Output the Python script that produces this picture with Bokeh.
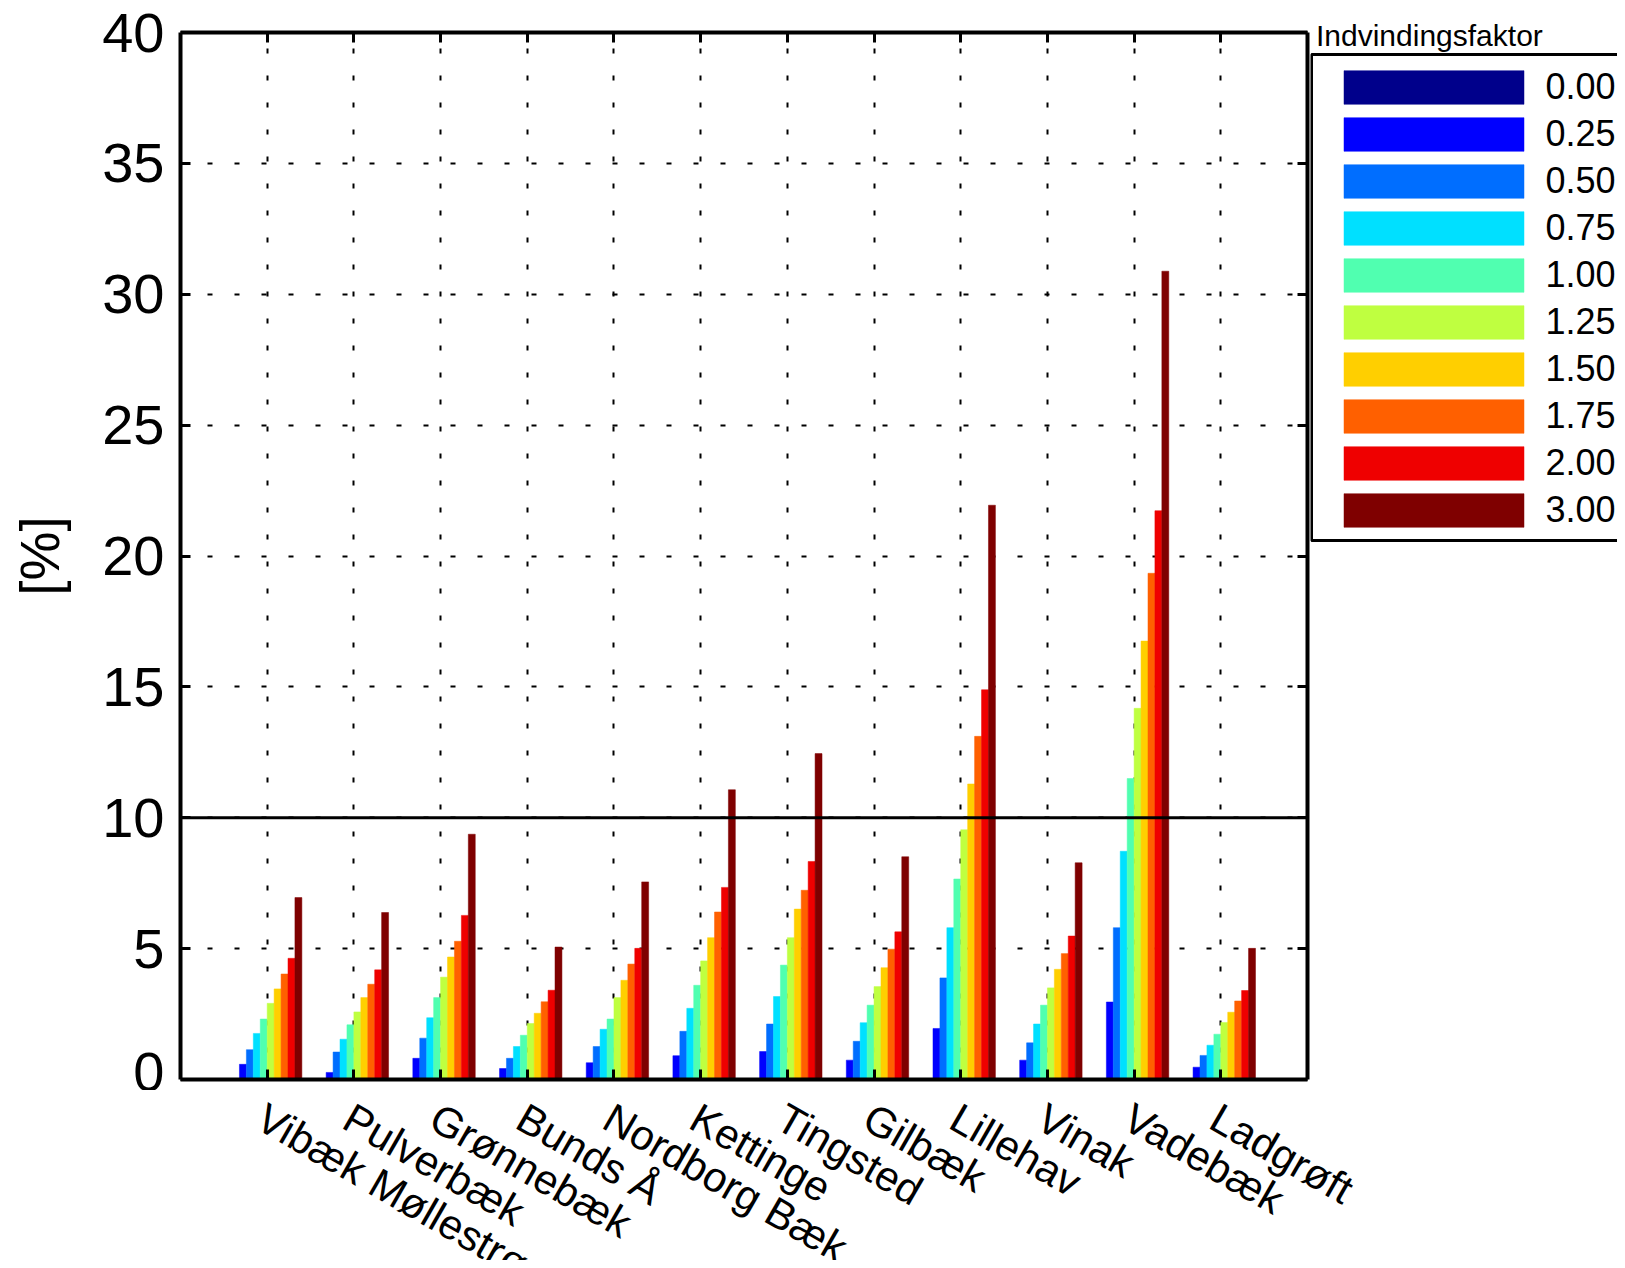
from bokeh.plotting import figure
from bokeh.layouts import column, row
from bokeh.models import (ColumnDataSource, Range1d, LinearAxis, FixedTicker, Grid, Span,
                          Legend, LegendItem, Label, BoxAnnotation)
from bokeh.core.properties import value
from bokeh.transform import dodge
from bokeh.embed import file_html
from bokeh.resources import INLINE

# ---------------- data ----------------
categories = ["Vibæk Møllestrøm", "Pulverbæk", "Grønnebæk", "Bunds Å", "Nordborg Bæk",
              "Kettinge", "Tingsted", "Gilbæk", "Lillehav", "Vinak", "Vadebæk", "Ladgrøft"]
positions = [1, 2, 3, 4, 5, 6, 7, 8, 9, 10, 11, 12]

factor_labels = ["0.00", "0.25", "0.50", "0.75", "1.00", "1.25", "1.50", "1.75", "2.00", "3.00"]

f000 = [0, 0, 0, 0, 0, 0, 0, 0, 0, 0, 0, 0]
f025 = [0.58, 0.27, 0.81, 0.42, 0.64, 0.91, 1.07, 0.74, 1.95, 0.74, 2.96, 0.47]
f050 = [1.14, 1.05, 1.58, 0.81, 1.26, 1.84, 2.12, 1.46, 3.88, 1.40, 5.80, 0.92]
f075 = [1.76, 1.54, 2.36, 1.26, 1.92, 2.72, 3.17, 2.17, 5.80, 2.12, 8.72, 1.31]
f100 = [2.31, 2.09, 3.13, 1.69, 2.31, 3.60, 4.37, 2.84, 7.66, 2.84, 11.50, 1.73]
f125 = [2.91, 2.58, 3.91, 2.14, 3.13, 4.53, 5.42, 3.55, 9.54, 3.50, 14.18, 2.18]
f150 = [3.46, 3.13, 4.68, 2.53, 3.79, 5.42, 6.51, 4.27, 11.29, 4.21, 16.75, 2.57]
f175 = [4.03, 3.64, 5.28, 2.97, 4.41, 6.40, 7.23, 4.98, 13.11, 4.81, 19.34, 3.00]
f200 = [4.63, 4.19, 6.27, 3.41, 5.01, 7.34, 8.33, 5.64, 14.89, 5.48, 21.73, 3.40]
f300 = [6.95, 6.38, 9.37, 5.06, 7.55, 11.07, 12.45, 8.51, 21.94, 8.28, 30.88, 5.01]

series = [f000, f025, f050, f075, f100, f125, f150, f175, f200, f300]

colors = ["#00008B", "#0000FF", "#006EFF", "#00E0FF", "#50FFB0",
          "#BFFF40", "#FFCF00", "#FF6000", "#EF0000", "#7F0000"]

y_ticks = [0, 5, 10, 15, 20, 25, 30, 35, 40]
threshold = 10
legend_title = "Indvindingsfaktor"
y_label = "[%]"

FONT = "Liberation Sans"
BAR_W = 0.08

# ---------------- layout constants (pixels) ----------------
PAGE_W, PAGE_H = 1617, 1260
FR_L, FR_R, FR_T, FR_B = 180, 1307, 32, 1079      # plot frame edges on the page
MAIN_W, MAIN_H = 1310, 1090
LEG_W = PAGE_W - MAIN_W
LAB_H = PAGE_H - MAIN_H
X0, X1 = 0, 13

sources = [ColumnDataSource(dict(x=positions, top=vals)) for vals in series]

# ---------------- main figure ----------------
p = figure(width=MAIN_W, height=MAIN_H, x_range=Range1d(X0, X1), y_range=Range1d(0, 40),
           x_axis_type=None, y_axis_type=None, output_backend="svg", toolbar_location=None,
           min_border_left=FR_L, min_border_right=MAIN_W - FR_R,
           min_border_top=FR_T, min_border_bottom=MAIN_H - FR_B)
p.outline_line_color = None
p.frame_align = False

xt = FixedTicker(ticks=positions)
yt = FixedTicker(ticks=y_ticks)


def style_axis(ax, show_labels):
    ax.axis_line_width = 4
    ax.axis_line_color = "black"
    ax.major_tick_in = 10
    ax.major_tick_out = 0
    ax.minor_tick_in = 0
    ax.minor_tick_out = 0
    ax.major_tick_line_width = 3
    ax.minor_tick_line_color = None
    if show_labels:
        ax.major_label_text_font = FONT
        ax.major_label_text_font_size = "56px"
        ax.major_label_text_color = "black"
        ax.major_label_standoff = 16
    else:
        ax.major_label_text_font_size = "1px"
        ax.major_label_text_color = None
        ax.major_label_standoff = 0


xb = LinearAxis(ticker=xt)
style_axis(xb, False)
xa = LinearAxis(ticker=xt)
style_axis(xa, False)
yl = LinearAxis(ticker=yt, axis_label=y_label)
style_axis(yl, True)
yl.axis_label_text_font = FONT
yl.axis_label_text_font_size = "55px"
yl.axis_label_text_font_style = "normal"
yl.axis_label_text_color = "black"
yl.axis_label_standoff = 28
yr = LinearAxis(ticker=yt)
style_axis(yr, False)

p.add_layout(xb, "below")
p.add_layout(xa, "above")
p.add_layout(yl, "left")
p.add_layout(yr, "right")

for dim, tk in ((0, xt), (1, yt)):
    g = Grid(dimension=dim, ticker=tk, grid_line_color="black", grid_line_width=2,
             grid_line_dash="5 22")
    p.add_layout(g, "center")

for k, (src, col) in enumerate(zip(sources, colors)):
    p.vbar(x=dodge("x", (k - 4.5) * BAR_W, range=p.x_range), top="top", bottom=0,
           width=BAR_W, source=src, fill_color=col, line_color=col, line_width=0.5)

p.add_layout(Span(location=threshold, dimension="width", line_color="black", line_width=3))

# ---------------- legend figure (to the right of the plot) ----------------
leg = figure(width=LEG_W, height=MAIN_H, x_range=Range1d(0, LEG_W), y_range=Range1d(MAIN_H, 0),
             x_axis_type=None, y_axis_type=None, output_backend="svg", toolbar_location=None,
             min_border=0)
leg.outline_line_color = None
leg.frame_align = False
# the swatch renderers reuse the series data on ranges that keep them out of view
leg.extra_x_ranges = {"hidden": Range1d(5000, 5100)}
leg.extra_y_ranges = {"hidden": Range1d(5000, 5100)}
swatches = []
for src, col in zip(sources, colors):
    swatches.append(leg.vbar(x="x", top="top", bottom=0, width=BAR_W, source=src,
                             x_range_name="hidden", y_range_name="hidden",
                             fill_color=col, line_color=col, line_width=0.5))
items = [LegendItem(label=lab, renderers=[r]) for lab, r in zip(factor_labels, swatches)]
legend = Legend(items=items, location=(10.5, 559), padding=0, spacing=5,
                glyph_width=225, glyph_height=42, label_height=34, label_standoff=-5,
                label_text_font=FONT, label_text_font_size="36px", label_text_color="black",
                border_line_color=None, background_fill_alpha=0, margin=0)
leg.add_layout(legend, "center")
leg.add_layout(BoxAnnotation(left=1, right=LEG_W + 100, top=54, bottom=540,
                             fill_color=None, line_color="black", line_alpha=1.0,
                             line_width=3))
leg.add_layout(Label(x=5.5, y=35, text=legend_title, text_font=FONT, text_font_size="30px",
                     text_baseline="alphabetic", text_color="black"))

# ---------------- category label strip (below the plot) ----------------
px_per_unit = (FR_R - FR_L) / (X1 - X0)
lab = figure(width=PAGE_W, height=LAB_H,
             x_range=Range1d(X0 - FR_L / px_per_unit, X1 + (PAGE_W - FR_R) / px_per_unit),
             y_range=Range1d(-LAB_H, 0),
             x_axis_type=None, y_axis_type=None, output_backend="svg", toolbar_location=None,
             min_border=0)
lab.outline_line_color = None
lab.frame_align = False
lab_src = ColumnDataSource(dict(x=positions, name=categories))
lab.text(x="x", y=-3.5, text="name", source=lab_src, angle=-30, angle_units="deg",
         x_offset=5, text_align="left", text_baseline="top",
         text_font=value(FONT), text_font_size="42px", text_color="black")

layout = column(row(p, leg), lab)
open("out.html", "w").write(file_html(layout, INLINE))
